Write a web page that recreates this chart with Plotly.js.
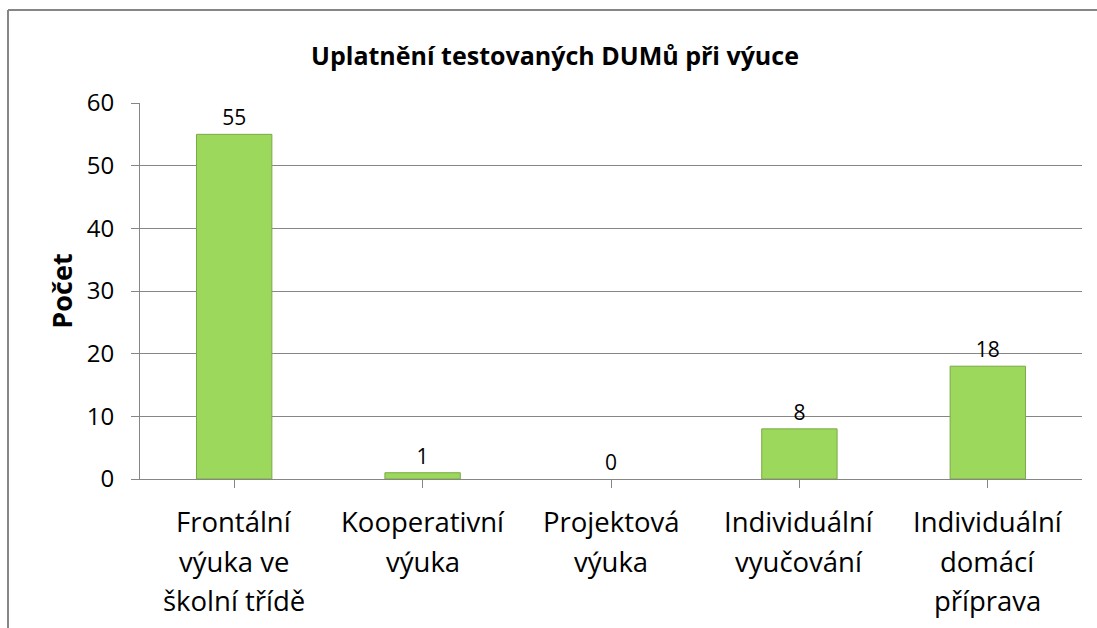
<!DOCTYPE html>
<html>
<head>
<meta charset="utf-8">
<script src="https://cdn.plot.ly/plotly-3.0.1.min.js"></script>
<style>
html,body{margin:0;padding:0;background:#fff;overflow:hidden;}
#chart{width:1097px;height:628px;}
</style>
</head>
<body>
<div id="chart"></div>
<script>
const categories = ["Frontální\nvýuka ve\nškolní třídě", "Kooperativní\nvýuka", "Projektová\nvýuka", "Individuální\nvyučování", "Individuální\ndomácí\npříprava"];
const values = [55, 1, 0, 8, 18];
const yTicks = [0, 10, 20, 30, 40, 50, 60];
const chartTitle = "Uplatnění testovaných DUMů při výuce";
const yTitle = "Počet";

const FONT = "Open Sans, Noto Sans, sans-serif";
const W = 1097, H = 628;
const L = 140, R = 15, T = 103, B = 149;
const plotW = W - L - R, plotH = H - T - B;

const trace = {
  type: "bar",
  x: categories.map((c, i) => i),
  y: values,
  width: 0.4,
  marker: { color: "#9cd85c", line: { color: "#7aa946", width: values.map(v => v > 0 ? 1 : 0) } },
  text: values.map(String),
  textposition: "outside",
  cliponaxis: false,
  textfont: { family: FONT, size: 21, color: "#000" },
  hoverinfo: "skip"
};

const annotations = [];
const lineY = [521, 561, 600];
categories.forEach((c, i) => {
  c.split("\n").forEach((ln, j) => {
    annotations.push({
      xref: "x", yref: "paper", x: i, y: (H - B - lineY[j]) / plotH,
      text: ln, showarrow: false, xanchor: "center", yanchor: "middle",
      font: { family: FONT, size: 27.5, color: "#000" }
    });
  });
});

const px2x = px => (px - L) / plotW;
const px2y = py => (H - B - py) / plotH;

const layout = {
  width: W, height: H,
  margin: { l: L, r: R, t: T, b: B, pad: 0 },
  paper_bgcolor: "#fff", plot_bgcolor: "#fff",
  showlegend: false,
  title: {
    text: "<b>" + chartTitle + "</b>",
    xref: "container", yref: "container",
    x: 555 / W, y: 1 - 56 / H, xanchor: "center", yanchor: "middle",
    font: { family: FONT, size: 25, color: "#000" }
  },
  xaxis: {
    range: [-0.5, categories.length - 0.5],
    tickmode: "array", tickvals: categories.map((c, i) => i), ticktext: categories.map(() => ""),
    tickson: "boundaries", ticks: "outside", ticklen: 8, tickcolor: "#868686",
    showline: true, linecolor: "#868686", linewidth: 1,
    showgrid: false, zeroline: false, fixedrange: true
  },
  yaxis: {
    range: [0, 60],
    tickmode: "array", tickvals: yTicks, ticktext: yTicks.map(String),
    ticks: "outside", ticklen: 8, tickcolor: "#868686",
    ticklabelstandoff: 12,
    tickfont: { family: FONT, size: 24, color: "#000" },
    showline: true, linecolor: "#868686", linewidth: 1,
    showgrid: true, gridcolor: "#868686", gridwidth: 1,
    zeroline: false, fixedrange: true,
    title: { text: "<b>" + yTitle + "</b>", font: { family: FONT, size: 27, color: "#000" }, standoff: 6 }
  },
  annotations: annotations,
  shapes: [
    { type: "line", xref: "paper", yref: "paper",
      x0: px2x(8), x1: px2x(W), y0: px2y(10), y1: px2y(10),
      line: { color: "#868686", width: 2 }, layer: "below" },
    { type: "line", xref: "paper", yref: "paper",
      x0: px2x(8), x1: px2x(8), y0: px2y(10), y1: px2y(H),
      line: { color: "#868686", width: 2 }, layer: "below" }
  ]
};

Plotly.newPlot("chart", [trace], layout, { displayModeBar: false, staticPlot: true });
</script>
</body>
</html>
